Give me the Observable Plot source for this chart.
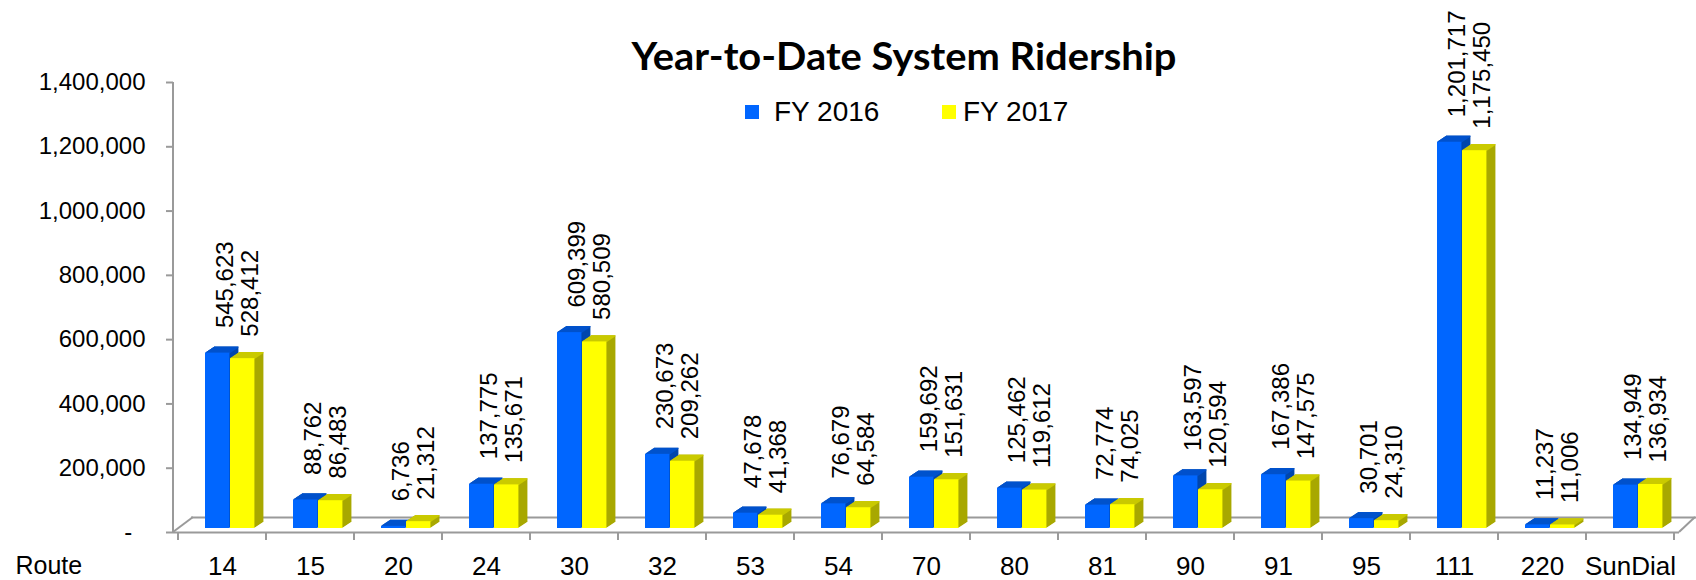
<!DOCTYPE html>
<html>
<head>
<meta charset="utf-8">
<script src="https://cdn.jsdelivr.net/npm/d3@7"></script>
<script src="https://cdn.jsdelivr.net/npm/@observablehq/plot@0.6"></script>
<style>
  html, body { margin: 0; padding: 0; background: #fff; }
  #wrap { position: relative; width: 1696px; height: 580px; overflow: hidden; font-family: "Liberation Sans", Arial, sans-serif; }
  #chart { position: absolute; left: 0; top: 0; }
  #title { position: absolute; left: 903.5px; top: 36px; font-family: Lato, "Open Sans", sans-serif; font-weight: 700; font-size: 38px; line-height: 38px; white-space: nowrap; color: #000; transform-origin: 50% 50%; }
  .lg-sw { position: absolute; width: 14px; height: 14px; top: 105px; }
  .lg-tx { position: absolute; top: 98px; font-size: 28px; line-height: 28px; white-space: nowrap; color: #000; }
</style>
</head>
<body>
<div id="wrap">
  <div id="chart"></div>
  <div id="title">Year-to-Date System Ridership</div>
  <div id="legend"></div>
</div>
<script>
// ---- data ----
const routes = ["14","15","20","24","30","32","53","54","70","80","81","90","91","95","111","220","SunDial"];
const fy2016 = [545623, 88762, 6736, 137775, 609399, 230673, 47678, 76679, 159692, 125462, 72774, 163597, 167386, 30701, 1201717, 11237, 134949];
const fy2017 = [528412, 86483, 21312, 135671, 580509, 209262, 41368, 64584, 151631, 119612, 74025, 120594, 147575, 24310, 1175450, 11006, 136934];
const seriesNames = ["FY 2016", "FY 2017"];
const yTicks = [0, 200000, 400000, 600000, 800000, 1000000, 1200000, 1400000];
const xAxisTitle = "Route";

// ---- styling ----
const W = 1696, H = 580, mL = 173, mR = 17, mT = 82, mB = 48;
const gray = "#9a9a9a";
const palette = {
  "FY 2016": {front: "#0066FF", top: "#0052CC", side: "#0047AD"},
  "FY 2017": {front: "#FFFF00", top: "#CACA00", side: "#A8A800"}
};
const bw = (W - mL - mR) / routes.length;
const barW = 25, barOff = 27, depthX = 9, depthY = 6, lift = 4;

const rows16 = routes.map((r, i) => ({route: r, value: fy2016[i]}));
const rows17 = routes.map((r, i) => ({route: r, value: fy2017[i]}));
const fmt = d3.format(",");

function bar3d(rows, col, insetLeft, insetRight) {
  const marks = [];
  const N = 12;
  for (let k = N; k >= 1; k--) {
    marks.push(Plot.barY(rows, {x: "route", y: "value", fill: col.side, insetLeft, insetRight,
      dx: k * depthX / N, dy: -lift - k * depthY / N}));
  }
  const M = depthY * 2;
  for (let k = 1; k <= M; k++) {
    marks.push(Plot.tickY(rows, {x: "route", y: "value", stroke: col.top, strokeWidth: 1.3, insetLeft, insetRight,
      dx: k * depthX / M, dy: -lift - k * depthY / M}));
  }
  marks.push(Plot.barY(rows, {x: "route", y: "value", fill: col.front, insetLeft, insetRight, dy: -lift}));
  return marks;
}

function frameLines(index, scales, values, dims) {
  const g = d3.create("svg:g").attr("stroke", gray).attr("stroke-width", 2).attr("fill", "none");
  const y0 = scales.y(0);
  const left = dims.marginLeft, right = dims.width - dims.marginRight, top = dims.marginTop;
  g.append("line").attr("x1", left).attr("x2", left).attr("y1", top).attr("y2", y0 + 1);
  g.append("line").attr("x1", left).attr("y1", y0).attr("x2", left + 20).attr("y2", y0 - 15);
  g.append("line").attr("x1", right).attr("y1", y0).attr("x2", right + 16).attr("y2", y0 - 15);
  const step = scales.x.bandwidth ? scales.x.bandwidth() : (right - left) / routes.length;
  const xs = routes.map(r => scales.x(r)).concat([scales.x(routes[routes.length - 1]) + step]);
  for (const x of xs) g.append("line").attr("x1", x).attr("x2", x).attr("y1", y0).attr("y2", y0 + 8);
  return g.node();
}

const chart = Plot.plot({
  width: W, height: H,
  marginLeft: mL, marginRight: mR, marginTop: mT, marginBottom: mB,
  style: {fontFamily: "'Liberation Sans', Arial, sans-serif", fontSize: "24px", color: "#000", background: "transparent"},
  x: {type: "band", domain: routes, paddingInner: 0, paddingOuter: 0},
  y: {domain: [0, 1400000]},
  marks: [
    Plot.ruleY([0], {stroke: gray, strokeWidth: 2, dx: 18, dy: -15}),
    Plot.ruleY([0], {stroke: gray, strokeWidth: 2}),
    frameLines,
    ...bar3d(rows16, palette["FY 2016"], barOff, bw - barOff - barW),
    ...bar3d(rows17, palette["FY 2017"], barOff + barW, bw - barOff - 2 * barW),
    Plot.text(rows16, {x: "route", y: "value", text: d => fmt(d.value), rotate: -90, textAnchor: "start", dx: 3, dy: -lift - 25, fontSize: 24, fill: "#000"}),
    Plot.text(rows17, {x: "route", y: "value", text: d => fmt(d.value), rotate: -90, textAnchor: "start", dx: 28, dy: -lift - 22, fontSize: 24, fill: "#000"}),
    Plot.axisY({ticks: yTicks, tickFormat: d => d === 0 ? "-\u2007" : fmt(d), tickSize: 7, tickPadding: 21, fontSize: 24, stroke: gray, strokeWidth: 2, label: null}),
    Plot.axisX({tickSize: 0, tickPadding: 24, fontSize: 26, label: null}),
    Plot.text([xAxisTitle], {text: d => d, frameAnchor: "bottom-left", textAnchor: "start", lineAnchor: "top", dx: -158, dy: 24, fontSize: 25, fill: "#000"})
  ]
});
document.getElementById("chart").appendChild(chart);

// legend
const legend = document.getElementById("legend");
const lgPos = [{sw: 745, tx: 774}, {sw: 942, tx: 963}];
seriesNames.forEach((name, i) => {
  const sw = document.createElement("div");
  sw.className = "lg-sw"; sw.style.left = lgPos[i].sw + "px"; sw.style.background = palette[name].front;
  const tx = document.createElement("div");
  tx.className = "lg-tx"; tx.style.left = lgPos[i].tx + "px"; tx.textContent = name;
  legend.appendChild(sw); legend.appendChild(tx);
});

// title width fit
const title = document.getElementById("title");
const tw = title.getBoundingClientRect().width;
title.style.transform = `translateX(-50%) scaleX(${545 / tw})`;
</script>
</body>
</html>
